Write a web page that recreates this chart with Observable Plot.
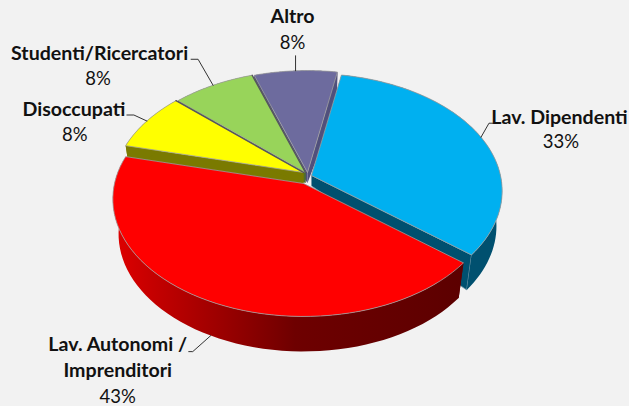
<!DOCTYPE html>
<html><head><meta charset="utf-8">
<script src="https://cdn.jsdelivr.net/npm/d3@7"></script>
<script src="https://cdn.jsdelivr.net/npm/@observablehq/plot@0.6"></script>
<style>html,body{margin:0;padding:0;background:#f2f2f2;overflow:hidden}svg{display:block}</style>
</head><body><div id="chart"></div>
<script>
// ---- data ----
const categories = ["Lav. Dipendenti", "Lav. Autonomi /\nImprenditori", "Disoccupati", "Studenti/Ricercatori", "Altro"];
const shares = [33, 43, 8, 8, 8];

// ---- styling / layout ----
const topColors = ["#00b0f0", "#ff0000", "#ffff00", "#98d45a", "#6d6b9e"];
const faceColors = ["#00506f", "#600000", "#7a7a00", "#4f6f2e", "#50507c"];
const W = 629, H = 406;
const RX = 189, RY = 115.4, P = 0.132, DEPTH = 35, SHRINK = 0.97;
const CX = 304, CY = 172, START = 10.3;
// explode offset of each tip, in px from the pie centre
const explode = [[7, 3], [-1, 11], [-1, 0], [1, 0], [3, 0]];
// painter's order: back slices first
const paintOrder = [4, 3, 2, 0, 1];
// annotation positions in px from the rim anchor of each slice
const notes = [
  {z: 0, from: [0, 0], leader: [[8, -14], [12, -14]], name: [78.5, -19], pct: [80, 5]},
  {z: 1, from: [0, 0], leader: [[-18, 16], [-22, 16]], name: [-93, 9], pct: [-93, 61], lineGap: 26},
  {z: 0, from: [0, 0], leader: [[-13, -6], [-20, -6]], name: [-73, -11], pct: [-72, 14]},
  {z: 0, from: [0, 0], leader: [[-15, -26], [-22, -26]], name: [-113.5, -32], pct: [-115, -6]},
  {z: 0, from: [0, 0], leader: [[0, -15]], name: [-3, -54], pct: [-3, -28]}
];

// ---- geometry from the values ----
const arcs = d3.pie().sort(null).startAngle(START * Math.PI / 180).endAngle((START + 360) * Math.PI / 180)(shares);
const ux = px => px / RX, uy = px => -px / RY;
function rim(i, t, z = 0, r = 1) {
  const u = r * Math.sin(t), v = r * Math.cos(t), w = 1 + P * v;
  const s = 1 - (1 - SHRINK) * z;
  return {x: ux(explode[i][0]) + (u / w) * s, y: uy(explode[i][1]) + (v / w) + uy(DEPTH * z * (r === 0 ? 0.3 : 1))};
}
const samples = (a, b, n = 60) => d3.range(n + 1).map(k => a + (b - a) * k / n);
const closed = pts => [...pts, pts[0]];
const shapes = [];
for (const i of paintOrder) {
  const {startAngle: a, endAngle: b} = arcs[i];
  const face = topColors[i];
  const tip0 = rim(i, 0, 0, 0), tip1 = rim(i, 0, 1, 0);
  const wallFill = i === 1 ? "url(#redWall)" : faceColors[i];
  // cut faces
  shapes.push({pts: closed([tip0, rim(i, a), rim(i, a, 1), tip1]), fill: faceColors[i], stroke: "none"});
  shapes.push({pts: closed([tip0, rim(i, b), rim(i, b, 1), tip1]), fill: faceColors[i], stroke: i === 0 ? "#7f9fae" : "none"});
  // outer wall
  shapes.push({pts: closed([...samples(a, b).map(t => rim(i, t)), ...samples(b, a).map(t => rim(i, t, 1))]), fill: wallFill, stroke: "#00000000"});
  // top
  shapes.push({pts: closed([tip0, ...samples(a, b).map(t => rim(i, t))]), fill: face, stroke: "#a0a0a0"});
}
// dark seams between the back slices
const seams = [2, 3].map(i => {
  const end = arcs[i].endAngle;
  return [rim(i, 0, 0, 0), rim(i, end)];
});

const gradient = () => {
  const defs = d3.create("svg:defs");
  const g = defs.append("linearGradient").attr("id", "redWall");
  [["0%", "#e00000"], ["10%", "#c80000"], ["52%", "#6e0000"], ["100%", "#5c0000"]].forEach(([o, c]) =>
    g.append("stop").attr("offset", o).attr("stop-color", c));
  return defs.node();
};

const anchors = arcs.map((d, i) => rim(i, (d.startAngle + d.endAngle) / 2, notes[i].z));
const at = (i, off) => ({x: anchors[i].x + ux(off[0]), y: anchors[i].y + uy(off[1])});
const leaders = notes.map((n, i) => [at(i, n.from), ...n.leader.map(o => at(i, o))]);
const nameRows = categories.flatMap((c, i) => c.split("\n").map((text, k) => {
  const off = notes[i].name;
  return {...at(i, [off[0], off[1] + k * (notes[i].lineGap || 0)]), text};
}));
const pctRows = shares.map((v, i) => ({...at(i, notes[i].pct), text: `${v}%`}));

const textStyle = {x: "x", y: "y", text: "text", textAnchor: "middle", lineAnchor: "middle",
  fontFamily: "Lato, Carlito, sans-serif", fill: "#111"};

const chart = Plot.plot({
  width: W, height: H, margin: 0,
  style: {background: "#f2f2f2"},
  x: {axis: null, domain: [ux(-CX), ux(W - CX)], range: [0, W]},
  y: {axis: null, domain: [uy(-CY), uy(H - CY)], range: [0, H]},
  marks: [
    gradient,
    ...shapes.map(s => Plot.line(s.pts, {x: "x", y: "y", fill: s.fill, stroke: s.stroke, strokeWidth: 0.8})),
    ...seams.map(s => Plot.line(s, {x: "x", y: "y", stroke: "#55575a", strokeWidth: 1.4})),
    ...leaders.map(l => Plot.line(l, {x: "x", y: "y", stroke: "#333", strokeWidth: 1})),
    Plot.text(nameRows, {...textStyle, fontSize: 19.6, fontWeight: 700}),
    Plot.text(pctRows, {...textStyle, fontSize: 18.5, fontWeight: 400})
  ]
});
document.getElementById("chart").append(chart);
</script></body></html>
